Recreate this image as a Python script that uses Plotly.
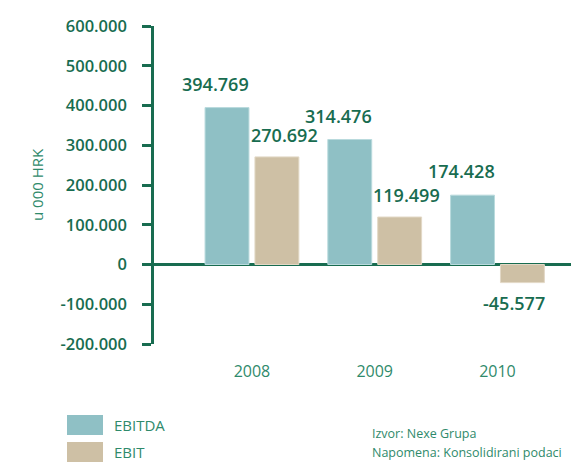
import plotly.graph_objects as go

years = ["2008", "2009", "2010"]
ebitda = [394769, 314476, 174428]
ebit = [270692, 119499, -45577]
ebitda_labels = ["394.769", "314.476", "174.428"]
ebit_labels = ["270.692", "119.499", "-45.577"]
tick_vals = [600000, 500000, 400000, 300000, 200000, 100000, 0, -100000, -200000]
tick_text = ["600.000", "500.000", "400.000", "300.000", "200.000", "100.000", "0", "-100.000", "-200.000"]

DARK = "#186c50"
MID = "#2f8a6b"
C_EBITDA = "#8fc0c5"
C_EBIT = "#cec0a5"
FONT = "Open Sans"

fig = go.Figure()
fig.add_trace(go.Bar(x=years, y=ebitda, name="EBITDA", marker=dict(color=C_EBITDA, line=dict(color="#b9dadd", width=1))))
fig.add_trace(go.Bar(x=years, y=ebit, name="EBIT", marker=dict(color=C_EBIT, line=dict(color="#e2d8c6", width=1))))

off = 0.204
ann = []
for i, (v, t) in enumerate(zip(ebitda, ebitda_labels)):
    ann.append(dict(x=i - off, y=v, xref="x", yref="y", text=t, showarrow=False,
                    xshift=-11, yshift=24, font=dict(family=FONT, size=18, color=DARK, weight=600)))
for i, (v, t) in enumerate(zip(ebit, ebit_labels)):
    pos = v >= 0
    ann.append(dict(x=i + off, y=v, xref="x", yref="y", text=t, showarrow=False,
                    xshift=7 if pos else -9, yshift=22 if pos else -20,
                    font=dict(family=FONT, size=18, color=DARK, weight=600)))

# y-axis title
ann.append(dict(x=-117 / 417, y=0.5, xref="paper", yref="paper", text="u 000 HRK", textangle=-90,
                xanchor="center", yanchor="middle",
                showarrow=False, font=dict(family=FONT, size=15, color=MID)))
# legend text
ann.append(dict(x=-42 / 417, y=-81 / 318, xref="paper", yref="paper", text="EBITDA", xanchor="left",
                yanchor="middle", showarrow=False, font=dict(family=FONT, size=15, color=MID)))
ann.append(dict(x=-42 / 417, y=-108 / 318, xref="paper", yref="paper", text="EBIT", xanchor="left",
                yanchor="middle", showarrow=False, font=dict(family=FONT, size=15, color=MID)))
# source
ann.append(dict(x=216 / 417, y=-89 / 318, xref="paper", yref="paper", text="Izvor: Nexe Grupa", xanchor="left",
                yanchor="middle", showarrow=False, font=dict(family=FONT, size=12.5, color=MID)))
ann.append(dict(x=216 / 417, y=-108 / 318, xref="paper", yref="paper", text="Napomena: Konsolidirani podaci",
                xanchor="left", yanchor="middle", showarrow=False, font=dict(family=FONT, size=12.5, color=MID)))

shapes = [
    dict(type="rect", xref="paper", yref="paper", x0=-87 / 417, x1=-51 / 417, y0=-91 / 318, y1=-71 / 318,
         fillcolor=C_EBITDA, line=dict(width=0)),
    dict(type="rect", xref="paper", yref="paper", x0=-87 / 417, x1=-51 / 417, y0=-118 / 318, y1=-98 / 318,
         fillcolor=C_EBIT, line=dict(width=0)),
]

fig.update_layout(
    width=572, height=464,
    margin=dict(l=154, r=1, t=26, b=120, autoexpand=False),
    paper_bgcolor="white", plot_bgcolor="white",
    barmode="group", bargap=0.187, bargroupgap=0.12,
    showlegend=False,
    annotations=ann, shapes=shapes,
    font=dict(family=FONT),
)
fig.update_xaxes(type="category", range=[-0.798, 2.599], showgrid=False, zeroline=False, showline=False,
                 automargin=False,
                 ticks="", ticklabelstandoff=16, tickfont=dict(family=FONT, size=16, color=MID))
fig.update_yaxes(range=[-200000, 600000], tickvals=tick_vals, ticktext=tick_text, showgrid=False,
                 automargin=False,
                 showline=True, linecolor=DARK, linewidth=2.5, ticks="outside", ticklen=9, tickwidth=2.5,
                 tickcolor=DARK, zeroline=True, zerolinecolor=DARK, zerolinewidth=3,
                 ticklabelstandoff=12, tickfont=dict(family=FONT, size=16.5, color=DARK, weight=600))

fig.write_html("out.html", config={"displayModeBar": False},
               post_script="document.body.style.margin='0';document.body.style.overflow='hidden';")
